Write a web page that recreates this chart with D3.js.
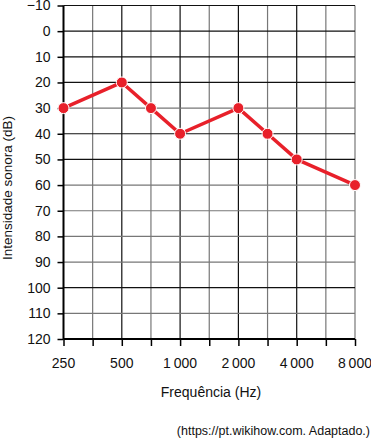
<!DOCTYPE html>
<html>
<head>
<meta charset="utf-8">
<script src="https://cdn.jsdelivr.net/npm/d3@7"></script>
<style>
  body { margin: 0; background: #fff; }
  text { font-family: "Liberation Sans", Arial, sans-serif; fill: #111; }
</style>
</head>
<body>
<script>
// audiogram values
var freqs = [250, 500, 750, 1000, 2000, 3000, 4000, 8000];
var levels = [30, 20, 30, 40, 30, 40, 50, 60];

// grid positions on the frequency axis (octaves + half octaves)
var gridFreqs = [250, 375, 500, 750, 1000, 1500, 2000, 3000, 4000, 6000, 8000];
var labelFreqs = [250, 500, 1000, 2000, 4000, 8000];
var labelText = ["250", "500", "1\u2009000", "2\u2009000", "4\u2009000", "8\u2009000"];
var dbTicks = [-10, 0, 10, 20, 30, 40, 50, 60, 70, 80, 90, 100, 110, 120];
var grayDb = [30, 60, 70, 80, 90, 110];

var W = 371, H = 439;
// plot box (note: "top" is a reserved window property, so use other names)
var pL = 63.5, pR = 355, pT = 5.5, pB = 339;
var fs = 14;

var svg = d3.select('body').append('svg')
    .attr('width', W)
    .attr('height', H);

var x = d3.scaleLinear()
    .domain(gridFreqs)
    .range(gridFreqs.map(function(d, i) { return pL + i * (pR - pL) / (gridFreqs.length - 1); }));
var y = d3.scaleLinear().domain([-10, 120]).range([pT, pB]);

// vertical grid
svg.append('g').selectAll('line')
    .data(gridFreqs.slice(1))
    .enter().append('line')
    .attr('x1', function(d) { return x(d); })
    .attr('x2', function(d) { return x(d); })
    .attr('y1', pT).attr('y2', pB)
    .attr('stroke', function(d) { return labelFreqs.indexOf(d) >= 0 && d != 8000 ? '#111' : '#777'; })
    .attr('stroke-width', 1.2);

// horizontal grid
svg.append('g').selectAll('line')
    .data(dbTicks.slice(0, -1))
    .enter().append('line')
    .attr('x1', pL).attr('x2', pR)
    .attr('y1', function(d) { return y(d); })
    .attr('y2', function(d) { return y(d); })
    .attr('stroke', function(d) { return grayDb.indexOf(d) >= 0 ? '#777' : '#111'; })
    .attr('stroke-width', 1.2);

// y axis
var yAxis = d3.axisLeft(y).tickValues(dbTicks).tickSize(6).tickPadding(7)
    .tickFormat(function(d) { return d < 0 ? '\u2212' + Math.abs(d) : d; });
var gy = svg.append('g').attr('transform', 'translate(' + pL + ',0)').call(yAxis);
gy.select('.domain').attr('stroke', '#000').attr('stroke-width', 2).attr('d', 'M0,' + pT + 'V' + pB);
gy.selectAll('.tick line').attr('stroke', '#000').attr('stroke-width', 1.5);
gy.selectAll('.tick text').attr('font-size', fs).attr('font-family', '"Liberation Sans", Arial, sans-serif').attr('fill', '#111');

// x axis
var xAxis = d3.axisBottom(x).tickValues(gridFreqs).tickSize(7).tickFormat('');
var gx = svg.append('g').attr('transform', 'translate(0,' + pB + ')').call(xAxis);
gx.select('.domain').attr('stroke', '#000').attr('stroke-width', 2).attr('d', 'M' + pL + ',0H' + pR);
gx.selectAll('.tick line').attr('stroke', '#000').attr('stroke-width', 1.5);

svg.append('g').selectAll('text')
    .data(labelFreqs)
    .enter().append('text')
    .attr('x', function(d) { return x(d); })
    .attr('y', 368)
    .attr('text-anchor', 'middle')
    .attr('font-size', fs)
    .text(function(d, i) { return labelText[i]; });

// titles
svg.append('text')
    .attr('x', 211).attr('y', 397)
    .attr('text-anchor', 'middle')
    .attr('font-size', fs)
    .text('Frequência (Hz)');

svg.append('text')
    .attr('transform', 'translate(12,188) rotate(-90)')
    .attr('text-anchor', 'middle')
    .attr('font-size', 13.5)
    .text('Intensidade sonora (dB)');

svg.append('text')
    .attr('x', 370).attr('y', 435)
    .attr('text-anchor', 'end')
    .attr('font-size', 12.5)
    .text('(https://pt.wikihow.com. Adaptado.)');

// data line
var line = d3.line()
    .x(function(d, i) { return x(freqs[i]); })
    .y(function(d) { return y(d); });

svg.append('path')
    .datum(levels)
    .attr('d', line)
    .attr('fill', 'none')
    .attr('stroke', '#e8202a')
    .attr('stroke-width', 3.5)
    .attr('stroke-linejoin', 'round');

svg.append('g').selectAll('circle')
    .data(levels)
    .enter().append('circle')
    .attr('cx', function(d, i) { return x(freqs[i]); })
    .attr('cy', function(d) { return y(d); })
    .attr('r', 5.5)
    .attr('fill', '#e8202a')
    .attr('stroke', '#fff')
    .attr('stroke-width', 1);
</script>
</body>
</html>
